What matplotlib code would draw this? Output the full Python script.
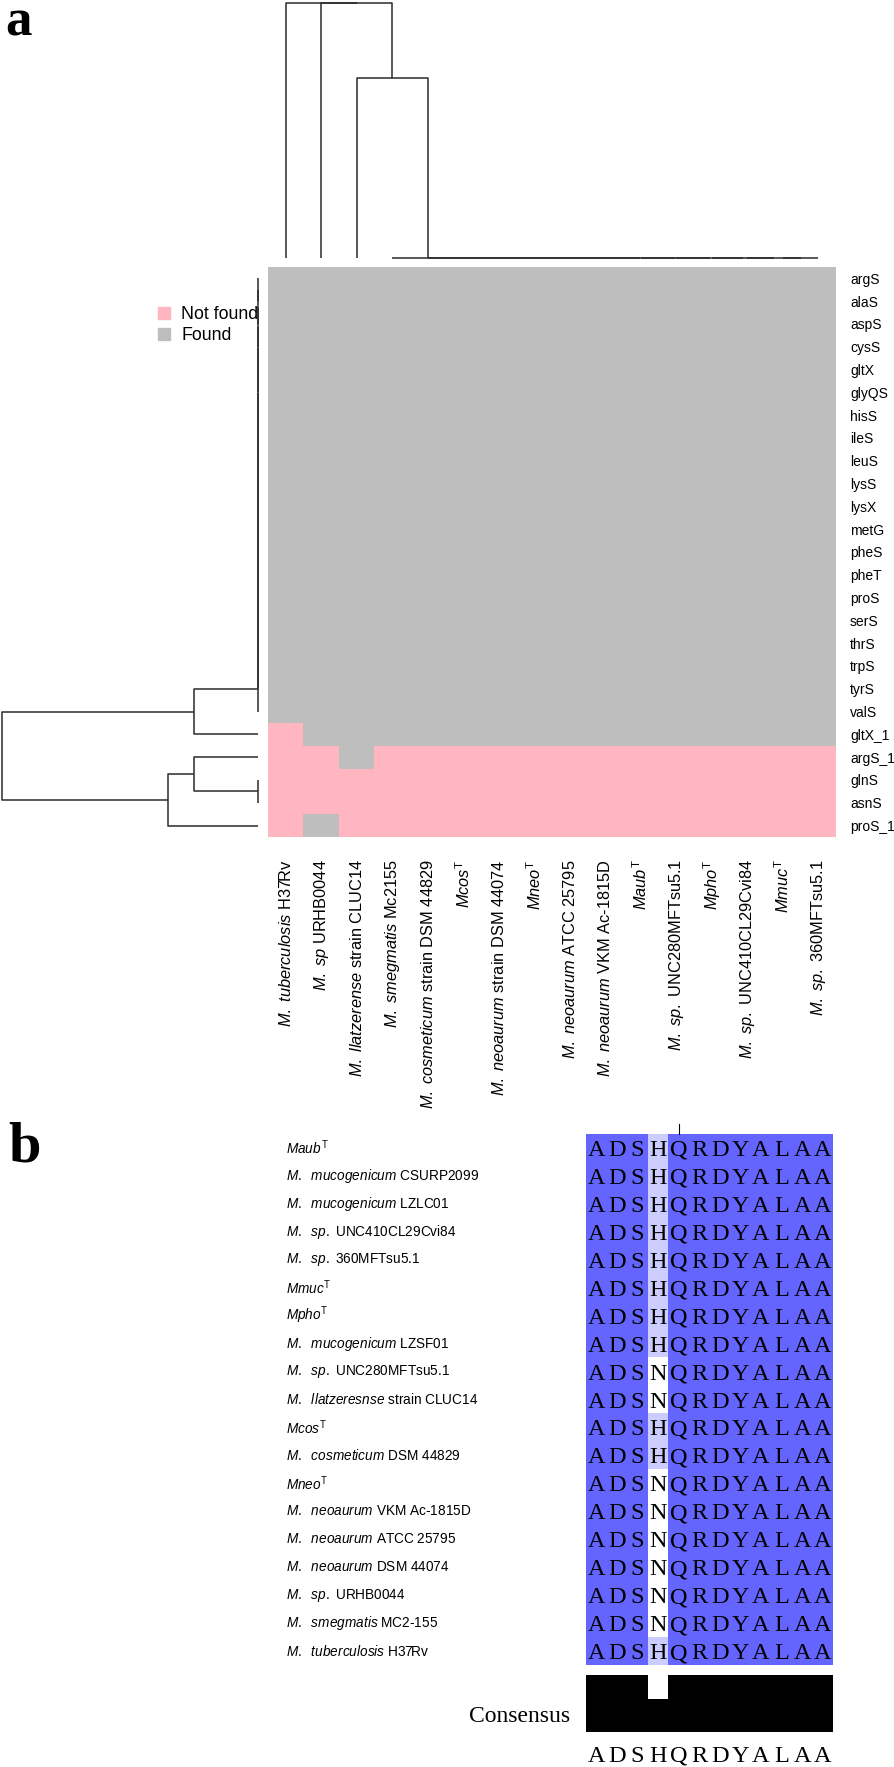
import numpy as np
import matplotlib
matplotlib.use('Agg')
import matplotlib.pyplot as plt
from matplotlib.colors import ListedColormap, to_rgb
from matplotlib.patches import Patch
from matplotlib.transforms import blended_transform_factory

plt.rcParams['font.family'] = 'Liberation Sans'
plt.rcParams['mathtext.fontset'] = 'custom'
plt.rcParams['mathtext.rm'] = 'Liberation Sans'
plt.rcParams['mathtext.it'] = 'Liberation Sans:italic'

# ---------------- panel a data ----------------
genes = ['argS', 'alaS', 'aspS', 'cysS', 'gltX', 'glyQS', 'hisS', 'ileS', 'leuS',
         'lysS', 'lysX', 'metG', 'pheS', 'pheT', 'proS', 'serS', 'thrS', 'trpS',
         'tyrS', 'valS', 'gltX_1', 'argS_1', 'glnS', 'asnS', 'proS_1']

strains = [r'$\mathit{M.\ tuberculosis}$ H37Rv',
           r'$\mathit{M.\ sp}$ URHB0044',
           r'$\mathit{M.\ llatzerense}$ strain CLUC14',
           r'$\mathit{M.\ smegmatis}$ Mc2155',
           r'$\mathit{M.\ cosmeticum}$ strain DSM 44829',
           r'$\mathit{Mcos}^{\mathrm{T}}$',
           r'$\mathit{M.\ neoaurum}$ strain DSM 44074',
           r'$\mathit{Mneo}^{\mathrm{T}}$',
           r'$\mathit{M.\ neoaurum}$ ATCC 25795',
           r'$\mathit{M.\ neoaurum}$ VKM Ac-1815D',
           r'$\mathit{Maub}^{\mathrm{T}}$',
           r'$\mathit{M.\ sp.}$ UNC280MFTsu5.1',
           r'$\mathit{Mpho}^{\mathrm{T}}$',
           r'$\mathit{M.\ sp.}$ UNC410CL29Cvi84',
           r'$\mathit{Mmuc}^{\mathrm{T}}$',
           r'$\mathit{M.\ sp.}$ 360MFTsu5.1']

# 1 = found, 0 = not found (rows = genes, cols = strains)
all_found = [1] * 16
none_found = [0] * 16
found = [all_found] * 20 + [
    [0, 1, 1, 1, 1, 1, 1, 1, 1, 1, 1, 1, 1, 1, 1, 1],  # gltX_1
    [0, 0, 1, 0, 0, 0, 0, 0, 0, 0, 0, 0, 0, 0, 0, 0],  # argS_1
    none_found,                                        # glnS
    none_found,                                        # asnS
    [0, 1, 0, 0, 0, 0, 0, 0, 0, 0, 0, 0, 0, 0, 0, 0],  # proS_1
]

# dendrogram merges (child_a, child_b, height); leaves first, new nodes numbered after
col_merges = [(14, 15, 0), (13, 16, 0), (12, 17, 0), (11, 18, 0), (10, 19, 0),
              (9, 20, 0), (8, 21, 0), (7, 22, 0), (6, 23, 0), (5, 24, 0),
              (4, 25, 0), (3, 26, 0), (2, 27, 1.0), (1, 28, 1.414), (0, 29, 1.414)]
row_merges = [(0, 1, 0), (25, 2, 0), (26, 3, 0), (27, 4, 0), (28, 5, 0), (29, 6, 0),
              (30, 7, 0), (31, 8, 0), (32, 9, 0), (33, 10, 0), (34, 11, 0), (35, 12, 0),
              (36, 13, 0), (37, 14, 0), (38, 15, 0), (39, 16, 0), (40, 17, 0),
              (41, 18, 0), (42, 19, 0), (43, 20, 1.0), (22, 23, 0), (21, 45, 1.0),
              (46, 24, 1.414), (44, 47, 4.0)]

# ---------------- panel b data ----------------
aln_names = [r'$\mathit{Maub}^{\mathrm{T}}$',
             r'$\mathit{M.}$  $\mathit{mucogenicum}$ CSURP2099',
             r'$\mathit{M.}$  $\mathit{mucogenicum}$ LZLC01',
             r'$\mathit{M.}$  $\mathit{sp.}$ UNC410CL29Cvi84',
             r'$\mathit{M.}$  $\mathit{sp.}$ 360MFTsu5.1',
             r'$\mathit{Mmuc}^{\mathrm{T}}$',
             r'$\mathit{Mpho}^{\mathrm{T}}$',
             r'$\mathit{M.}$  $\mathit{mucogenicum}$ LZSF01',
             r'$\mathit{M.}$  $\mathit{sp.}$ UNC280MFTsu5.1',
             r'$\mathit{M.}$  $\mathit{llatzeresnse}$ strain CLUC14',
             r'$\mathit{Mcos}^{\mathrm{T}}$',
             r'$\mathit{M.}$  $\mathit{cosmeticum}$ DSM 44829',
             r'$\mathit{Mneo}^{\mathrm{T}}$',
             r'$\mathit{M.}$  $\mathit{neoaurum}$ VKM Ac-1815D',
             r'$\mathit{M.}$  $\mathit{neoaurum}$ ATCC 25795',
             r'$\mathit{M.}$  $\mathit{neoaurum}$ DSM 44074',
             r'$\mathit{M.}$  $\mathit{sp.}$ URHB0044',
             r'$\mathit{M.}$  $\mathit{smegmatis}$ MC2-155',
             r'$\mathit{M.}$  $\mathit{tuberculosis}$ H37Rv']
aln_seqs = ['ADSHQRDYALAA', 'ADSHQRDYALAA', 'ADSHQRDYALAA', 'ADSHQRDYALAA',
            'ADSHQRDYALAA', 'ADSHQRDYALAA', 'ADSHQRDYALAA', 'ADSHQRDYALAA',
            'ADSNQRDYALAA', 'ADSNQRDYALAA', 'ADSHQRDYALAA', 'ADSHQRDYALAA',
            'ADSNQRDYALAA', 'ADSNQRDYALAA', 'ADSNQRDYALAA', 'ADSNQRDYALAA',
            'ADSNQRDYALAA', 'ADSNQRDYALAA', 'ADSHQRDYALAA']
consensus = 'ADSHQRDYALAA'
consensus_pct = [100, 100, 100, 58, 100, 100, 100, 100, 100, 100, 100, 100]

# ---------------- styling ----------------
W, H = 894, 1767
PINK, GRAY = '#FFB6C1', '#BEBEBE'
PID_HIGH, PID_MID = '#6464FF', '#CCCCFF'
LINE = '#2b2b2b'


def fbox(left, top, right, bottom):
    """pixel box -> figure fraction rect"""
    return [left / W, 1 - bottom / H, (right - left) / W, (bottom - top) / H]


def draw_tree(ax, merges, n, side):
    pos = list(range(n))
    hgt = [0.0] * n
    for a, b, h in merges:
        xs = [pos[a], pos[a], pos[b], pos[b]]
        ys = [hgt[a], h, h, hgt[b]]
        if side == 'top':
            ax.plot(xs, ys, color=LINE, lw=1.1, clip_on=False, solid_capstyle='butt')
        else:
            ax.plot(ys, xs, color=LINE, lw=1.1, clip_on=False, solid_capstyle='butt')
        pos.append((pos[a] + pos[b]) / 2)
        hgt.append(h)


fig = plt.figure(figsize=(W / 100, H / 100), dpi=100)

# heatmap
ax_heat = fig.add_axes(fbox(268, 267, 836, 837))
mat = np.array(found)
ax_heat.imshow(mat, cmap=ListedColormap([PINK, GRAY]), vmin=0, vmax=1,
               aspect='auto', interpolation='nearest')
for s in ax_heat.spines.values():
    s.set_visible(False)
ax_heat.yaxis.tick_right()
ax_heat.set_yticks(range(len(genes)))
ax_heat.set_yticklabels(genes, fontsize=10)
ax_heat.set_xticks(range(len(strains)))
ax_heat.set_xticklabels(strains, rotation=90, fontsize=11.8)
ax_heat.tick_params(axis='y', length=0, pad=10)
ax_heat.tick_params(axis='x', length=0, pad=16)

# column dendrogram
ax_top = fig.add_axes(fbox(268, 3, 836, 258))
draw_tree(ax_top, col_merges, len(strains), 'top')
ax_top.set_xlim(-0.5, len(strains) - 0.5)
ax_top.set_ylim(0, max(m[2] for m in col_merges))
ax_top.axis('off')

# row dendrogram
ax_left = fig.add_axes(fbox(2, 267, 258, 837))
draw_tree(ax_left, row_merges, len(genes), 'left')
ax_left.set_xlim(max(m[2] for m in row_merges), 0)
ax_left.set_ylim(len(genes) - 0.5, -0.5)
ax_left.axis('off')

fig.legend(handles=[Patch(color=PINK, label='Not found'), Patch(color=GRAY, label='Found')],
           loc='upper left', bbox_to_anchor=(158 / W, 1 - 306 / H), frameon=False,
           fontsize=12.8, handlelength=0.65, handleheight=0.65, handletextpad=0.65,
           labelspacing=0.25, borderpad=0, borderaxespad=0)

# ---------------- panel b ----------------
ax_aln = fig.add_axes(fbox(586, 1134, 833, 1665))
n_rows, n_cols = len(aln_seqs), len(consensus)
rgb = np.ones((n_rows, n_cols, 3))
for i, seq in enumerate(aln_seqs):
    for j, res in enumerate(seq):
        if res == consensus[j]:
            if consensus_pct[j] > 80:
                rgb[i, j] = to_rgb(PID_HIGH)
            elif consensus_pct[j] > 40:
                rgb[i, j] = to_rgb(PID_MID)
ax_aln.imshow(rgb, aspect='auto', interpolation='nearest')
for i, seq in enumerate(aln_seqs):
    for j, res in enumerate(seq):
        ax_aln.text(j, i, res, ha='center', va='center_baseline', fontsize=17.5,
                    family='Liberation Serif', color='black')
ax_aln.set_xlim(-0.5, n_cols - 0.5)
ax_aln.set_ylim(n_rows - 0.5, -0.5)
ax_aln.axis('off')

name_tr = blended_transform_factory(fig.transFigure, ax_aln.transData)
for i, name in enumerate(aln_names):
    ax_aln.text(286 / W, i, name, transform=name_tr, ha='left', va='center',
                fontsize=9.8)

# ruler tick above the alignment
ruler_col = 4
ax_aln.plot([ruler_col, ruler_col], [-0.5, -0.85], color='black', lw=0.8, clip_on=False)

# consensus histogram
ax_cons = fig.add_axes(fbox(586, 1675, 833, 1732))
ax_cons.bar(range(n_cols), consensus_pct, width=1.0, color='black')
ax_cons.set_xlim(-0.5, n_cols - 0.5)
ax_cons.set_ylim(0, 100)
for s in ax_cons.spines.values():
    s.set_visible(False)
ax_cons.set_yticks([])
ax_cons.set_xticks(range(n_cols))
ax_cons.set_xticklabels(list(consensus), fontsize=17.5, family='Liberation Serif')
ax_cons.tick_params(axis='x', length=0, pad=10)
ax_cons.text(-16 / 247, 0.28, 'Consensus', transform=ax_cons.transAxes, ha='right',
             va='center', fontsize=17, family='Liberation Serif')

# panel letters
fig.text(5 / W, 1 - 35 / H, 'a', fontsize=38, fontweight='bold', family='Liberation Serif',
         va='baseline')
fig.text(8 / W, 1 - 1161 / H, 'b', fontsize=42, fontweight='bold', family='Liberation Serif',
         va='baseline')

fig.savefig('out.png', dpi=100)
